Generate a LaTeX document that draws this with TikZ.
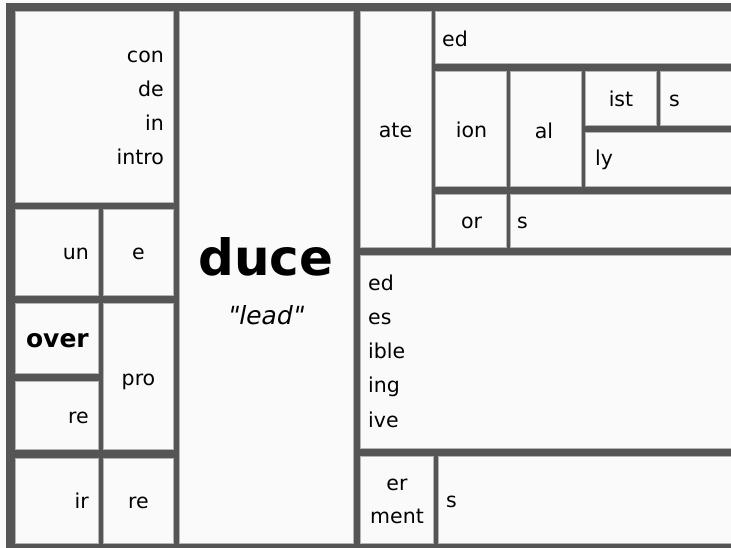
\documentclass[tikz,border=0pt]{standalone}
\usepackage{fontspec}
\setmainfont{DejaVu Sans}[Ligatures=TeXOff]
\definecolor{bandgray}{HTML}{555555}
\definecolor{cellfill}{HTML}{FAFAFA}
\definecolor{celledge}{HTML}{B4B4B4}
\tikzset{
  cell/.style={fill=cellfill, draw=celledge, line width=0.8pt},
  lbl/.style={inner sep=0pt, text height=15.6pt, text depth=4.9pt, font=\fontsize{20.5}{24}\selectfont},
  bigword/.style={inner sep=0pt, text height=38pt, text depth=12pt, font=\fontsize{50}{60}\selectfont\bfseries},
  boldword/.style={inner sep=0pt, text height=19pt, text depth=6pt, font=\fontsize{25}{30}\selectfont\bfseries},
  gloss/.style={inner sep=0pt, text height=19pt, text depth=6pt, font=\fontsize{25}{30}\selectfont, xslant=0.2},
}
\begin{document}
\begin{tikzpicture}[x=1pt, y=-1pt]
\useasboundingbox (0,0) rectangle (731,548);
\fill[cellfill] (0,0) rectangle (731,548);
\fill[bandgray] (5.5,3) rectangle (731,548);
% cells
\draw[cell] (15,11) rectangle (173.5,202);
\draw[cell] (15,209.5) rectangle (98.5,295);
\draw[cell] (103.5,209.5) rectangle (173.5,295);
\draw[cell] (15,303.5) rectangle (98.5,373);
\draw[cell] (15,381) rectangle (98.5,449.5);
\draw[cell] (103.5,303.5) rectangle (173.5,449.5);
\draw[cell] (15,458) rectangle (98.5,543.5);
\draw[cell] (103.5,458) rectangle (173.5,543.5);
\draw[cell] (179.5,11) rectangle (353.5,543.5);
\draw[cell] (360,11) rectangle (431,247.5);
\draw[cell] (435,11) rectangle (731.5,63.5);
\draw[cell] (435,71.5) rectangle (506,186);
\draw[cell] (510,71.5) rectangle (581,186);
\draw[cell] (585.5,71.5) rectangle (656,125);
\draw[cell] (660,71.5) rectangle (731.5,125);
\draw[cell] (585.5,132.5) rectangle (731.5,186);
\draw[cell] (435,194.5) rectangle (506,247.5);
\draw[cell] (510,194.5) rectangle (731.5,247.5);
\draw[cell] (360,255) rectangle (731.5,448.5);
\draw[cell] (360,456.5) rectangle (433.5,543.5);
\draw[cell] (438.5,456.5) rectangle (731.5,543.5);
% left column texts
\node[lbl, anchor=east] (tcon) at (164,57) {con};
\node[lbl, anchor=east] (tde) at (164,91) {de};
\node[lbl, anchor=east] (tin) at (164,125) {in};
\node[lbl, anchor=east] (tintro) at (164,159) {intro};
\node[lbl, anchor=east] (tun) at (89,254) {un};
\node[lbl] (te) at (138.5,254) {e};
\node[boldword, anchor=east] (tover) at (89,341) {over};
\node[lbl, anchor=east] (treL) at (89,418) {re};
\node[lbl] (tpro) at (138.5,380) {pro};
\node[lbl, anchor=east] (tir) at (89,503) {ir};
\node[lbl] (treR) at (138.5,503) {re};
% centre
\node[bigword] (tduce) at (266,263) {duce};
\node[gloss] (tlead) at (266,318) {"lead"};
% right side
\node[lbl] (tate) at (395.5,132) {ate};
\node[lbl, anchor=west] (tedT) at (442,41) {ed};
\node[lbl] (tion) at (471.5,132) {ion};
\node[lbl] (tal) at (544,133) {al};
\node[lbl] (tist) at (621,101) {ist};
\node[lbl, anchor=west] (tsT) at (669,101) {s};
\node[lbl, anchor=west] (tly) at (595,160) {ly};
\node[lbl] (tor) at (471.5,223) {or};
\node[lbl, anchor=west] (tsO) at (517,223) {s};
\node[lbl, anchor=west] (ted) at (368,285) {ed};
\node[lbl, anchor=west] (tes) at (368,319.2) {es};
\node[lbl, anchor=west] (tible) at (368,353.4) {ible};
\node[lbl, anchor=west] (ting) at (368,387.6) {ing};
\node[lbl, anchor=west] (tive) at (368,421.8) {ive};
\node[lbl] (ter) at (397,485) {er};
\node[lbl] (tment) at (397,518.5) {ment};
\node[lbl, anchor=west] (tsB) at (446,502) {s};
\end{tikzpicture}
\end{document}
